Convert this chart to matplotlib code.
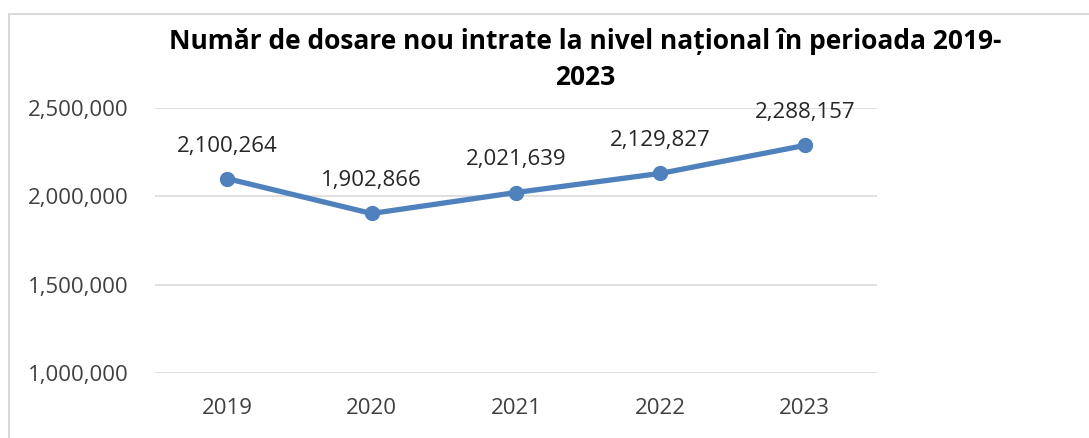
import matplotlib
matplotlib.use("Agg")
import matplotlib.pyplot as plt
from matplotlib.patches import Rectangle
from matplotlib.ticker import FuncFormatter

years = ["2019", "2020", "2021", "2022", "2023"]
dosare = [2100264, 1902866, 2021639, 2129827, 2288157]
y_ticks = [1000000, 1500000, 2000000, 2500000]
title_lines = ["Număr de dosare nou intrate la nivel național în perioada 2019-", "2023"]

plt.rcParams['font.family'] = ['Open Sans', 'DejaVu Sans']

W, H = 1089, 438
fig = plt.figure(figsize=(W / 100, H / 100), dpi=100)
ax = fig.add_axes([155 / W, 1 - 373 / H, (877 - 155) / W, (373 - 108) / H])

# chart frame (light grey border, cut off at right and bottom)
fig.patches.append(Rectangle((9 / W, -0.1), 1.2, 1 - 14 / H + 0.1,
                             transform=fig.transFigure, fill=False,
                             edgecolor="#D9D9D9", linewidth=1.5))

x = list(range(len(years)))
ax.plot(x, dosare, color="#4F81BD", linewidth=3.8, marker="o", markersize=10,
        solid_capstyle="round", zorder=3)

for xi, v in zip(x, dosare):
    ax.annotate(f"{v:,}", (xi, v), xytext=(0, 19.5), textcoords="offset points",
                ha="center", va="baseline", fontsize=16, color="#262626")

ax.set_xlim(-0.5, len(years) - 0.5)
ax.set_ylim(y_ticks[0], y_ticks[-1])
ax.set_yticks(y_ticks)
ax.yaxis.set_major_formatter(FuncFormatter(lambda v, p: f"{int(v):,}"))
ax.set_xticks(x)
ax.set_xticklabels(years)
ax.grid(axis="y", color="#D9D9D9", linewidth=1.2)
ax.set_axisbelow(True)
for s in ax.spines.values():
    s.set_visible(False)
ax.tick_params(axis="both", length=0, labelsize=16, colors="#404040")
ax.tick_params(axis="y", pad=19)
ax.tick_params(axis="x", pad=18)

# title, two lines as in the original (manual line break)
fig.text(585 / W, 1 - 49 / H, title_lines[0], ha="center", va="baseline",
         fontsize=19, fontweight="bold", color="#000000")
fig.text(585 / W, 1 - 85 / H, title_lines[1], ha="center", va="baseline",
         fontsize=19, fontweight="bold", color="#000000")

fig.savefig("out.png", dpi=100)
